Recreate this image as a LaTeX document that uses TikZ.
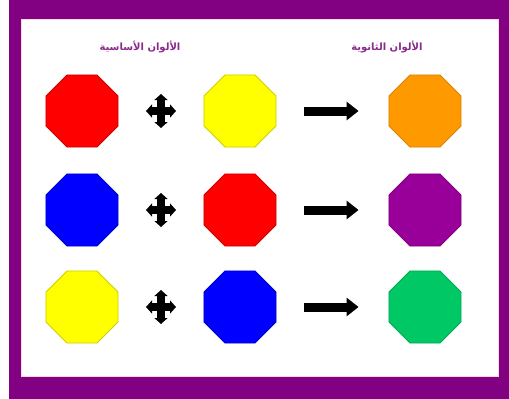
\documentclass[tikz,border=0pt]{standalone}
\usepackage{fontspec}
\newfontfamily\arabicfont[Script=Arabic]{DejaVu Sans}
\TeXXeTstate=1
\usetikzlibrary{shapes.geometric,arrows.meta,calc}
\definecolor{frame}{HTML}{820082}
\definecolor{cred}{HTML}{FF0000}
\definecolor{cyellow}{HTML}{FFFF00}
\definecolor{corange}{HTML}{FF9900}
\definecolor{cblue}{HTML}{0000FF}
\definecolor{cpurple}{HTML}{990099}
\definecolor{cgreen}{HTML}{00C864}
\definecolor{labelc}{HTML}{8A2A8A}
\tikzset{
  oct/.style={regular polygon, regular polygon sides=8, minimum size=78pt, inner sep=0pt, line width=0.8pt},
  lbl/.style={text=labelc, font=\arabicfont\bfseries\fontsize{10}{12}\selectfont, inner sep=0pt},
  bigarrow/.style={line width=9pt, -{Triangle[length=12pt,width=18pt]}, shorten <=28pt, shorten >=30pt},
  plusarm/.style={line width=8pt, -{Triangle[length=6pt,width=13pt]}},
}
\begin{document}
\begin{tikzpicture}[x=1pt,y=-1pt]
\useasboundingbox (0,0) rectangle (509,399);
\fill[white] (0,0) rectangle (509,399);
\fill[frame] (9,0) rectangle (509,399);
\fill[white] (21,19) rectangle (498,376);
\draw[pink!60, line width=0.8pt] (21,19) rectangle (498,376);
\node[lbl] (t1) at (140,47) {\beginR الألوان الأساسية\endR};
\node[lbl] (t2) at (387,47) {\beginR الألوان الثانوية\endR};
% row 1
\node[oct, fill=cred, draw=cred!80!black] (a1) at (82,111) {};
\node[oct, fill=cyellow, draw=cyellow!80!black] (b1) at (240,111) {};
\node[oct, fill=corange, draw=corange!85!black] (c1) at (425,111) {};
% row 2
\node[oct, fill=cblue, draw=cblue!80!black] (a2) at (82,210) {};
\node[oct, fill=cred, draw=cred!80!black] (b2) at (240,210) {};
\node[oct, fill=cpurple, draw=cpurple!85!black] (c2) at (425,210) {};
% row 3
\node[oct, fill=cyellow, draw=cyellow!80!black] (a3) at (82,307) {};
\node[oct, fill=cblue, draw=cblue!80!black] (b3) at (240,307) {};
\node[oct, fill=cgreen, draw=cgreen!85!black] (c3) at (425,307) {};
% plus signs and arrows
\foreach \r in {1,2,3}{
  \coordinate (p\r) at ($(a\r.east)!0.5!(b\r.west)$);
  \foreach \dx/\dy in {0/-17, 0/17, -15/0, 15/0}{
    \draw[plusarm] (p\r) -- ++(\dx,\dy);
  }
  \draw[bigarrow] (b\r.east) -- (c\r.west);
}
\end{tikzpicture}
\end{document}
